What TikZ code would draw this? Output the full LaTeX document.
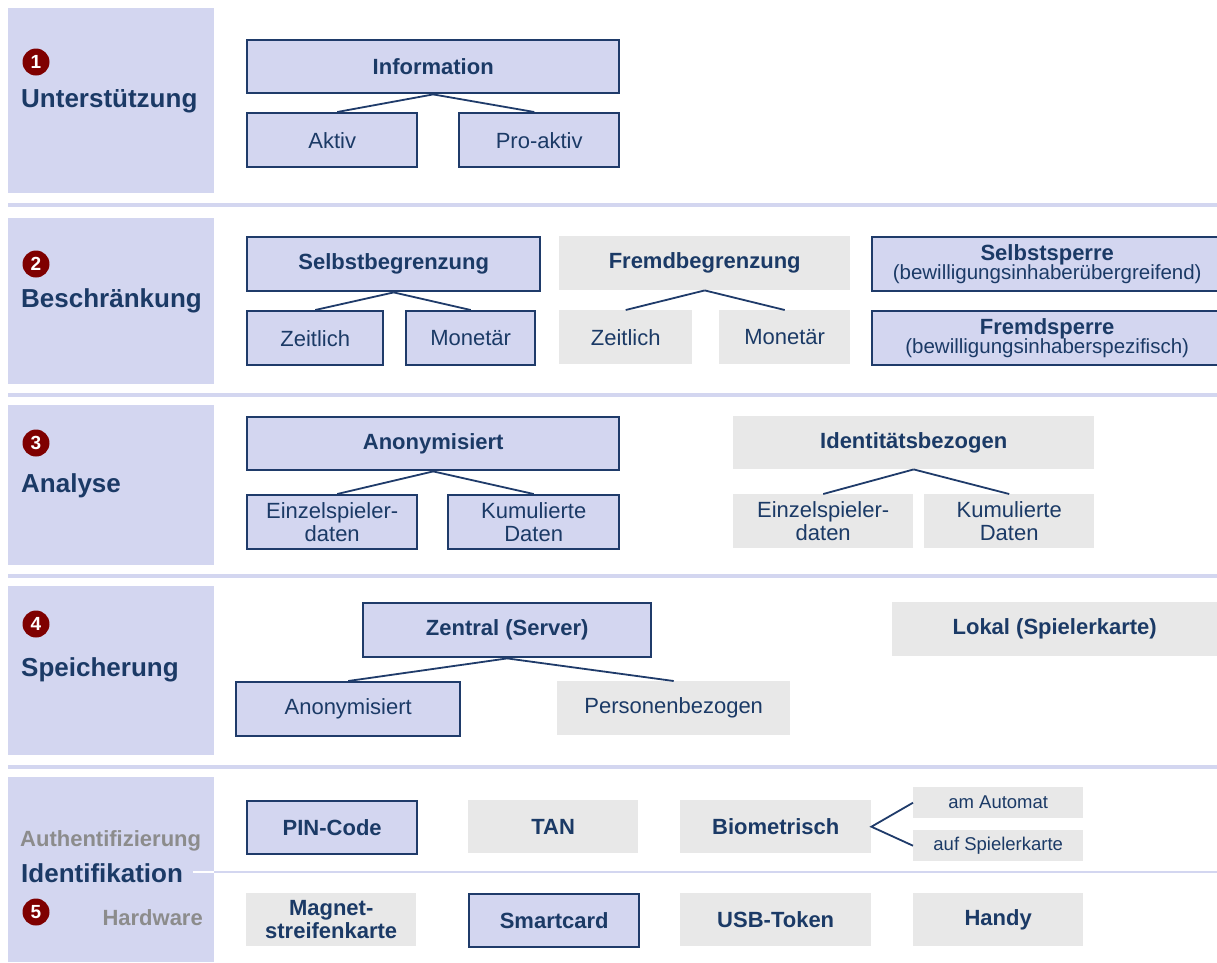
\documentclass[tikz,border=0pt]{standalone}
\usepackage{fontspec}
\setmainfont{Liberation Sans}
\definecolor{lav}{HTML}{D3D6F0}
\definecolor{navy}{HTML}{1B3A66}
\definecolor{navyline}{HTML}{1F3B6A}
\definecolor{grayfill}{HTML}{E8E8E8}
\definecolor{graytext}{HTML}{8C8C8C}
\definecolor{darkred}{HTML}{7F0000}
\tikzset{
  panel/.style={fill=lav, draw=none},
  sepline/.style={draw=lav, line width=4pt},
  boxbase/.style={anchor=north west, inner sep=0pt, align=center, text=navy, font=\fontsize{22}{23.5}\selectfont},
  bluebox/.style={boxbase, fill=lav, draw=navyline, line width=2.4pt},
  graybox/.style={boxbase, fill=grayfill, draw=none},
  bf/.style={font=\fontsize{22}{23.5}\selectfont\bfseries},
  conn/.style={draw=navyline, line width=1.8pt},
  seclabel/.style={anchor=west, inner sep=0pt, text=navy, font=\fontsize{26}{28}\selectfont\bfseries},
  numcirc/.style={circle, fill=darkred, text=white, inner sep=0pt, minimum size=27pt, font=\fontsize{19}{19}\selectfont\bfseries},
}
\begin{document}
\begin{tikzpicture}[x=1pt, y=-1pt]
\useasboundingbox (0,0) rectangle (1217,962);
\fill[white] (0,0) rectangle (1217,962);
% panels
\fill[panel] (8,8) rectangle (214,193);
\fill[panel] (8,218) rectangle (214,384);
\fill[panel] (8,405) rectangle (214,565);
\fill[panel] (8,586) rectangle (214,755);
\fill[panel] (8,777) rectangle (214,962);
% separators
\draw[sepline] (8,205) -- (1217,205);
\draw[sepline] (8,395) -- (1217,395);
\draw[sepline] (8,576) -- (1217,576);
\draw[sepline] (8,767) -- (1217,767);
\draw[draw=white, line width=2pt] (193,872) -- (214,872);
\draw[draw=lav, line width=2.5pt] (214,872) -- (1217,872);

% section labels
\node[numcirc] (n1) at (36,62) {1};
\node[seclabel] (l1) at (21,101) {Unterstützung};
\node[numcirc] (n2) at (36,264) {2};
\node[seclabel] (l2) at (21,301) {Beschränkung};
\node[numcirc] (n3) at (36,443) {3};
\node[seclabel] (l3) at (21,486) {Analyse};
\node[numcirc] (n4) at (36,624) {4};
\node[seclabel] (l4) at (21,670) {Speicherung};
\node[anchor=west, inner sep=0pt, text=graytext, font=\fontsize{22}{24}\selectfont\bfseries] (auth) at (20,841) {Authentifizierung};
\node[seclabel] (l5) at (21,873) {Identifikation};
\node[numcirc] (n5) at (36,912) {5};
\node[anchor=east, inner sep=0pt, text=graytext, font=\fontsize{22}{24}\selectfont\bfseries] (hw) at (203,918) {Hardware};

% Section 1
\node[bluebox, bf, minimum width=372pt, minimum height=53pt] (info) at (246,39) {Information};
\node[bluebox, minimum width=170pt, minimum height=54pt] (aktiv) at (246,112) {Aktiv};
\node[bluebox, minimum width=160pt, minimum height=54pt] (proaktiv) at (458,112) {Pro-aktiv};
\draw[conn] (info.south) -- ([xshift=5pt]aktiv.north);
\draw[conn] (info.south) -- ([xshift=-5pt]proaktiv.north);

% Section 2
\node[bluebox, bf, minimum width=293pt, minimum height=54pt] (selbst) at (246,236) {Selbstbegrenzung};
\node[bluebox, minimum width=136pt, minimum height=54pt] (zeit1) at (246,310) {Zeitlich};
\node[bluebox, minimum width=129pt, minimum height=54pt] (mon1) at (405,310) {Monetär};
\draw[conn] (selbst.south) -- (zeit1.north);
\draw[conn] (selbst.south) -- (mon1.north);
\node[graybox, bf, minimum width=291pt, minimum height=54pt] (fremd) at (559,236) {Fremdbegrenzung};
\node[graybox, minimum width=133pt, minimum height=54pt] (zeit2) at (559,310) {Zeitlich};
\node[graybox, minimum width=131pt, minimum height=54pt] (mon2) at (719,310) {Monetär};
\draw[conn] (fremd.south) -- (zeit2.north);
\draw[conn] (fremd.south) -- (mon2.north);
\node[bluebox, minimum width=350pt, minimum height=54pt, font=\fontsize{20.5}{21}\selectfont] (ssperre) at (871,236) {{\fontsize{22}{22}\selectfont\bfseries Selbstsperre}\\[-2pt](bewilligungsinhaberübergreifend)};
\node[bluebox, minimum width=350pt, minimum height=54pt, font=\fontsize{20.5}{21}\selectfont] (fsperre) at (871,310) {{\fontsize{22}{22}\selectfont\bfseries Fremdsperre}\\[-2pt](bewilligungsinhaberspezifisch)};

% Section 3
\node[bluebox, bf, minimum width=372pt, minimum height=53pt] (anon) at (246,416) {Anonymisiert};
\node[bluebox, minimum width=170pt, minimum height=54pt] (einz1) at (246,494) {Einzelspieler-\\daten};
\node[bluebox, minimum width=171pt, minimum height=54pt] (kum1) at (447,494) {Kumulierte\\Daten};
\draw[conn] (anon.south) -- ([xshift=5pt]einz1.north);
\draw[conn] (anon.south) -- (kum1.north);
\node[graybox, bf, minimum width=361pt, minimum height=53pt] (ident) at (733,416) {Identitätsbezogen};
\node[graybox, minimum width=180pt, minimum height=54pt] (einz2) at (733,494) {Einzelspieler-\\daten};
\node[graybox, minimum width=170pt, minimum height=54pt] (kum2) at (924,494) {Kumulierte\\Daten};
\draw[conn] (ident.south) -- (einz2.north);
\draw[conn] (ident.south) -- (kum2.north);

% Section 4
\node[bluebox, bf, minimum width=288pt, minimum height=54pt] (zentral) at (362,602) {Zentral (Server)};
\node[bluebox, minimum width=224pt, minimum height=54pt] (anon4) at (235,681) {Anonymisiert};
\node[graybox, minimum width=233pt, minimum height=54pt] (pers) at (557,681) {Personenbezogen};
\draw[conn] (zentral.south) -- (anon4.north);
\draw[conn] (zentral.south) -- (pers.north);
\node[graybox, bf, minimum width=325pt, minimum height=54pt] (lokal) at (892,602) {Lokal (Spielerkarte)};

% Section 5
\node[bluebox, bf, minimum width=170pt, minimum height=53pt] (pin) at (246,800) {PIN-Code};
\node[graybox, bf, minimum width=170pt, minimum height=53pt] (tan) at (468,800) {TAN};
\node[graybox, bf, minimum width=191pt, minimum height=53pt] (bio) at (680,800) {Biometrisch};
\node[graybox, minimum width=170pt, minimum height=31pt, font=\fontsize{18.5}{20}\selectfont] (amaut) at (913,787) {am Automat};
\node[graybox, minimum width=170pt, minimum height=31pt, font=\fontsize{18.5}{20}\selectfont] (aufsp) at (913,830) {auf Spielerkarte};
\draw[conn] (amaut.west) -- (bio.east) -- (aufsp.west);
\node[graybox, bf, minimum width=170pt, minimum height=53pt] (magnet) at (246,893) {Magnet-\\streifenkarte};
\node[bluebox, bf, minimum width=170pt, minimum height=53pt] (smart) at (468,893) {Smartcard};
\node[graybox, bf, minimum width=191pt, minimum height=53pt] (usb) at (680,893) {USB-Token};
\node[graybox, bf, minimum width=170pt, minimum height=53pt] (handy) at (913,893) {Handy};
\end{tikzpicture}
\end{document}
